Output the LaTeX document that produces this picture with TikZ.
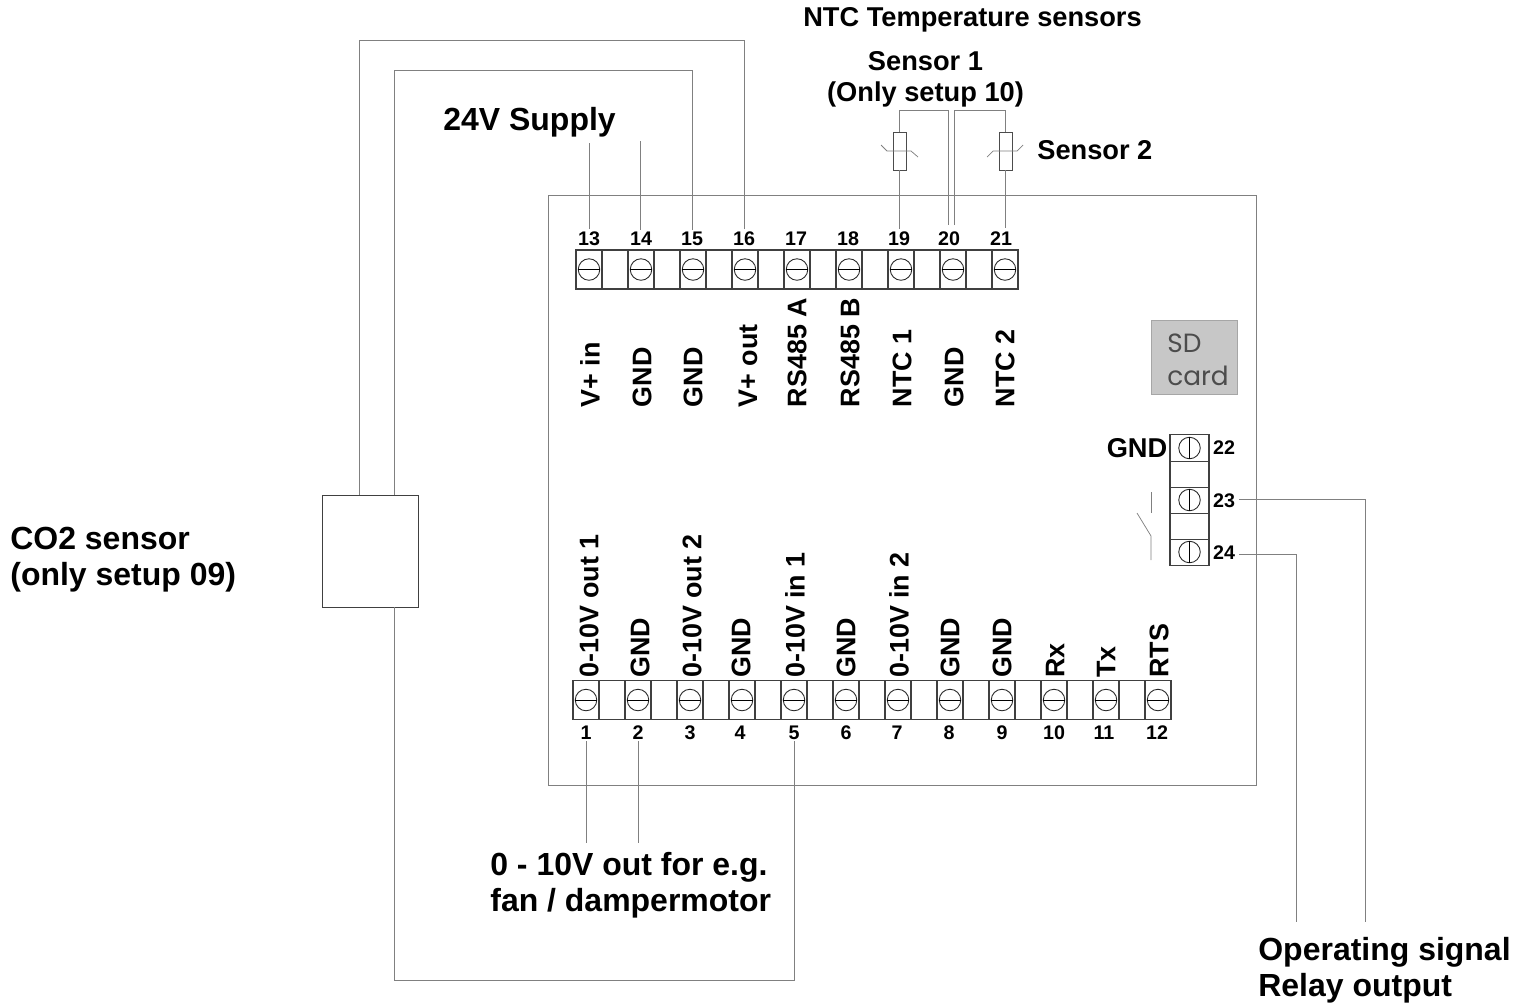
\documentclass[tikz,border=0pt]{standalone}
\usepackage{fontspec}
\setmainfont{Liberation Sans}
\newfontfamily\sdfont{Poppins}
\tikzset{
    wire/.style={draw=black!50, line width=0.42pt},
    cell/.style={draw=black!75, line width=0.6pt, inner sep=0, minimum width=0.52cm, minimum height=0.78cm},
    screw/.style={draw=black!85, circle, line width=0.5pt, inner sep=0, minimum size=0.43cm},
    numtext/.style={font=\fontsize{11.2}{13}\selectfont\bfseries, inner sep=1pt},
    pintext/.style={font=\fontsize{15.3}{17}\selectfont\bfseries, rotate=90, anchor=west, inner sep=0},
    midtext/.style={font=\fontsize{15.5}{17.6}\selectfont\bfseries, align=center, inner sep=0},
    bigtext/.style={font=\fontsize{18.2}{20.6}\selectfont\bfseries, align=left, inner sep=0}
}
\begin{document}
\begin{tikzpicture}[x=0.02cm, y=-0.02cm]
    \useasboundingbox (0, 0) rectangle (1527, 1005);
    % housing and card
    \node[draw=black!50, line width=0.5pt, minimum width=14.16cm, minimum height=11.8cm, inner sep=0] (housing) at (902, 490) {};
    \node[draw=black!35, fill=black!22, line width=0.5pt, minimum width=1.72cm, minimum height=1.48cm, inner sep=0] (sdcard) at (1194, 357) {};
    \node[font=\sdfont\fontsize{15}{18.5}\selectfont\color{black!70}, align=left, inner sep=0] (sdtext) at (1198, 360) {SD\\card};

    % top strip
    \foreach \i in {0,...,16}
        \node[cell] (top\i) at ({589 + 26*\i}, 269.5) {};
    \foreach \n/\lx [count=\c from 0] in {13/589, 14/641, 15/692, 16/744, 17/796, 18/848, 19/899, 20/949, 21/1001} {
        \node[screw] (s\n) at ({589 + 52*\c}, 269.5) {};
        \draw[line width=0.5pt] (s\n.west) -- (s\n.east);
        \node[numtext] (n\n) at (\lx, 238.5) {\n};
    }
    \foreach \t/\lx in {V+ in/590, GND/642, GND/693, V+ out/748, RS485 A/797, RS485 B/850, NTC 1/902, GND/954, NTC 2/1005}
        \node[pintext] (top-\lx) at (\lx, 407.5) {\t};

    % bottom strip
    \foreach \i in {0,...,22}
        \node[cell] (bot\i) at ({586 + 26*\i}, 700) {};
    \foreach \n/\lx [count=\c from 0] in {1/586, 2/638, 3/690, 4/740, 5/794, 6/846, 7/897, 8/949, 9/1002, 10/1054, 11/1104, 12/1157} {
        \node[screw] (s\n) at ({586 + 52*\c}, 700) {};
        \draw[line width=0.5pt] (s\n.west) -- (s\n.east);
        \node[numtext] (n\n) at (\lx, 732.5) {\n};
    }
    \foreach \t/\lx in {0-10V out 1/589, GND/640, 0-10V out 2/692, GND/741, 0-10V in 1/795, GND/846, 0-10V in 2/899, GND/950, GND/1002, Rx/1055, Tx/1106, RTS/1159}
        \node[pintext] (bot-\lx) at (\lx, 678) {\t};

    % relay strip
    \foreach \i in {0,...,4}
        \node[cell, minimum width=0.78cm, minimum height=0.525cm] (rel\i) at (1189.5, {448 + 26.2*\i}) {};
    \foreach \n/\y/\ly in {22/448/448, 23/500/501, 24/552/553} {
        \node[screw] (s\n) at (1189.5, \y) {};
        \draw[line width=0.5pt] (s\n.north) -- (s\n.south);
        \node[numtext] (n\n) at (1224, \ly) {\n};
    }
    \node[midtext] (gnd) at (1137, 448) {GND};
    \draw[wire] (1151, 492) -- (1151, 513);
    \draw[wire] (1137, 513) -- (1151, 536) -- (1151, 560);

    % sensors
    \node[draw=black!70, line width=0.5pt, minimum width=0.26cm, minimum height=0.76cm, inner sep=0] (res19) at (899.5, 151) {};
    \node[draw=black!70, line width=0.5pt, minimum width=0.26cm, minimum height=0.76cm, inner sep=0] (res21) at (1005.5, 151) {};
    \draw[wire] (881, 145) -- (887, 151) -- (911, 151) -- (918, 157);
    \draw[wire] (987, 157) -- (993, 151) -- (1017, 151) -- (1023, 145);
    \coordinate (c20a) at (948, 225);
    \coordinate (c20b) at (954, 225);
    \draw[wire] (res19.south) -- (res19.south |- n19.north);
    \draw[wire] (res19.north) -- (899.5, 110) -- (948, 110) -- (c20a);
    \draw[wire] (c20b) -- (954, 110) -- (1005.5, 110) -- (res21.north);
    \draw[wire] (res21.south) -- (1005.5, 228);

    % CO2 box and its wires
    \node[draw=black!75, line width=0.5pt, minimum width=1.92cm, minimum height=2.24cm, inner sep=0] (co2) at (370, 551) {};
    \coordinate (co2a) at (359, 495);
    \coordinate (co2b) at (394, 495);
    \coordinate (co2c) at (394, 607);
    \draw[wire] (n15.north) -- (692, 70) -- (394, 70) -- (co2b);
    \draw[wire] (n16.north) -- (744, 40) -- (359, 40) -- (co2a);
    \draw[wire] (co2c) -- (394, 980) -- (794, 980) -- (n5.south);

    % free wire ends
    \coordinate (sup13) at (589, 143);
    \coordinate (sup14) at (640, 141);
    \coordinate (out1) at (586, 843);
    \coordinate (out2) at (638, 843);
    \coordinate (rel23) at (1239, 499);
    \coordinate (rel24) at (1239, 554);
    \coordinate (opa) at (1296, 922);
    \coordinate (opb) at (1365, 922);
    \draw[wire] (sup13) -- (n13.north);
    \draw[wire] (sup14) -- (sup14 |- n14.north);
    \draw[wire] (n1.south) -- (out1);
    \draw[wire] (n2.south) -- (out2);
    \draw[wire] (rel23) -- (1365, 499) -- (opb);
    \draw[wire] (rel24) -- (1296, 554) -- (opa);

    % captions
    \node[midtext] (ntc) at (972.5, 20) {NTC Temperature sensors};
    \node[midtext] (sens1) at (925.5, 79) {Sensor 1\\(Only setup 10)};
    \node[midtext, anchor=west] (sens2) at (1037, 150) {Sensor 2};
    \node[bigtext, anchor=west] (supply) at (443, 122) {24V Supply};
    \node[bigtext, anchor=west] (co2text) at (10, 560) {CO2 sensor\\(only setup 09)};
    \node[bigtext, anchor=west] (outtext) at (490, 885) {0 - 10V out for e.g.\\fan / dampermotor};
    \node[bigtext, anchor=west] (optext) at (1258, 970) {Operating signal\\Relay output};
\end{tikzpicture}
\end{document}
